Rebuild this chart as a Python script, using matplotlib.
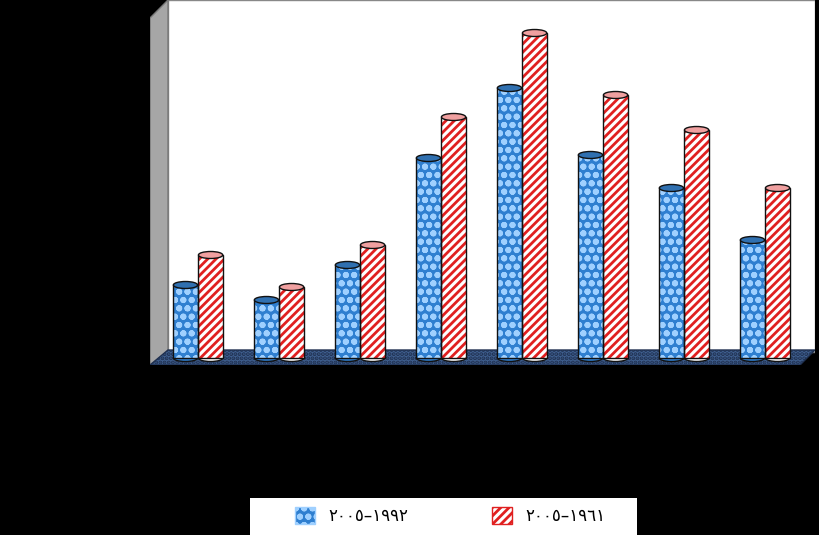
import matplotlib
matplotlib.use("Agg")
import matplotlib.pyplot as plt
from matplotlib.patches import Polygon, Ellipse, Patch, Rectangle

plt.rcParams['hatch.linewidth'] = 2.0
categories = list(range(8))
series_1992 = [73, 58, 93, 200, 270, 203, 170, 118]
series_1961 = [103, 71, 113, 241, 325, 263, 228, 170]
labels = ["٢٠٠٥–١٩٩٢", "٢٠٠٥–١٩٦١"]

W, H = 820, 535
fig = plt.figure(figsize=(8.2, 5.35), dpi=100, facecolor="black")
ax = fig.add_axes([150/W, 1-365/H, 665/W, 365/H])
ax.set_facecolor("black")
ax.set_xlim(-0.593, 7.617)
ax.set_ylim(-7, 358)
ax.axis("off")

def P(px, py):
    return ((px-150)/665, (365-py)/365)

ax.add_patch(Polygon([P(168,0), P(815,0), P(815,352), P(168,352)], closed=True,
                     transform=ax.transAxes, fc="white", ec="#888888", lw=1, zorder=0))
ax.add_patch(Polygon([P(150,18), P(168,0), P(168,352), P(150,365)], closed=True,
                     transform=ax.transAxes, fc="#a6a6a6", ec="#777777", lw=1, zorder=0))
ax.add_patch(Polygon([P(168,350), P(815,350), P(800,365), P(150,365)], closed=True,
                     transform=ax.transAxes, fc="#3f5f8f", ec="#1f3050", lw=1,
                     hatch="....", zorder=1))

bw = 0.30
off = 0.155
eh = 7
for i, (a, b) in enumerate(zip(series_1992, series_1961)):
    for x, v, fc, hc, tc in [(i-off, a, "#2f7fd0", "#9fd0ff", "#3070b0"),
                             (i+off, b, "white", "#e02020", "#f0a0a0")]:
        ax.bar(x, v, width=bw, color=fc, edgecolor=hc, hatch="oo" if fc != "white" else "////",
               linewidth=0, zorder=2)
        ax.bar(x, v, width=bw, fill=False, edgecolor="#111111", linewidth=1, zorder=3)
        ax.add_patch(Ellipse((x, 0), bw, eh, fc=fc, ec="#111111", lw=1, zorder=1.9))
        ax.add_patch(Ellipse((x, v), bw, eh, fc=tc, ec="#111111", lw=1, zorder=4))

# legend box
fig.patches.append(Rectangle((250/W, 0), 387/W, 37/H, transform=fig.transFigure,
                             fc="white", ec="none", zorder=0))
handles = [Patch(fc="#2f7fd0", ec="#9fd0ff", hatch="oo"),
           Patch(fc="white", ec="#e02020", hatch="////")]
leg = fig.legend(handles, labels, loc="center", bbox_to_anchor=(450/W, 1-516/H), ncol=2,
                 frameon=False, columnspacing=5,
                 handlelength=1.2, handleheight=1.2, handletextpad=0.8,
                 prop={"family": ["DejaVu Sans"], "size": 12})
for h in leg.legend_handles:
    h.set_linewidth(1)
    h.set_edgecolor("black") if False else None
fig.savefig("out.png", dpi=100, facecolor="black")
